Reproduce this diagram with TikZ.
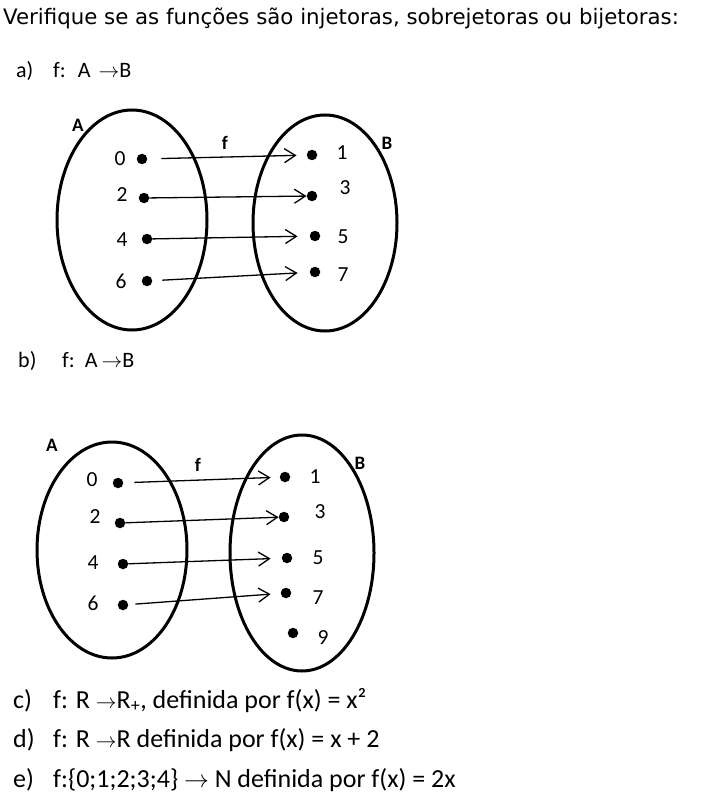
\documentclass[tikz,border=0pt]{standalone}
\usepackage{fontspec}
\setmainfont{Carlito}
\newfontfamily\verdana{DejaVu Sans}
\usetikzlibrary{arrows.meta}
\newcommand\seta{{\fontsize{21}{25}\selectfont$\rightarrow$}}
\tikzset{
  pt/.style={circle,fill,inner sep=0pt,minimum size=10.5pt},
  num/.style={font=\fontsize{21.5}{25}\selectfont},
  setname/.style={font=\fontsize{19}{23}\selectfont\bfseries},
  item/.style={anchor=base west,inner sep=0pt,font=\fontsize{22}{26}\selectfont},
  itembig/.style={anchor=base west,inner sep=0pt,font=\fontsize{26}{31}\selectfont},
  map/.style={-{Straight Barb[length=11pt,width=14pt]},line width=1.3pt},
  conj/.style={line width=3pt}
}
\begin{document}
\begin{tikzpicture}[x=1pt,y=-1pt]
\useasboundingbox (0,0) rectangle (724,805);
\node[anchor=base west,inner sep=0pt,font=\verdana\fontsize{21.3}{25}\selectfont] (titulo) at (3,25) {Verifique se as funções são injetoras, sobrejetoras ou bijetoras:};
\node[item] (ia) at (16,78) {a)}; \node[item] (fa) at (53,78) {f:\hspace{12pt}A\hspace{8pt}$\rightarrow$B};
\node[item] (ib) at (18,367) {b)}; \node[item] (fb) at (62,367) {f:\hspace{10pt}A\hspace{4pt}$\rightarrow$B};
\node[itembig] (ic) at (13,708) {c)}; \node[itembig] (fc) at (53,708) {f: R \seta R\textsubscript{+}, definida por f(x) = x²};
\node[itembig] (id) at (13,747) {d)}; \node[itembig] (fd) at (53,747) {f: R \seta R definida por f(x) = x + 2};
\node[itembig] (ie) at (13,787) {e)}; \node[itembig] (fe) at (53,787) {f:\{0;1;2;3;4\} $\rightarrow$ N definida por f(x) = 2x};
% a)
\draw[conj] (132,220) ellipse [x radius=75,y radius=110];
\draw[conj] (325,223) ellipse [x radius=72,y radius=108];
\node[setname] (Aa) at (78,125) {A}; \node[setname] (Ba) at (387,143) {B};
\node[setname] (fla) at (225,143) {f};
\node[pt] (a0) at (142,159) {}; \node[num] (la0) at (120,159) {0};
\node[pt] (a2) at (144,198) {}; \node[num] (la2) at (122,195) {2};
\node[pt] (a4) at (147,239) {}; \node[num] (la4) at (122,240) {4};
\node[pt] (a6) at (147,281) {}; \node[num] (la6) at (121,281) {6};
\node[pt] (b1) at (312,155) {}; \node[num] (lb1) at (342,153) {1};
\node[pt] (b3) at (312,196) {}; \node[num] (lb3) at (345,188) {3};
\node[pt] (b5) at (315,236) {}; \node[num] (lb5) at (343,237) {5};
\node[pt] (b7) at (315,272) {}; \node[num] (lb7) at (343,275) {7};
\draw[map,shorten <=14pt,shorten >=10pt] (a0) -- (b1);
\draw[map] (a2) -- (b3);
\draw[map,shorten >=12pt] (a4) -- (b5);
\draw[map,shorten <=10pt,shorten >=12pt] (a6) -- (b7);
% b)
\draw[conj] (112,550) ellipse [x radius=75,y radius=108];
\draw[conj] (302,553) ellipse [x radius=72,y radius=118];
\node[setname] (Ab) at (52,445) {A}; \node[setname] (Bb) at (360,463) {B};
\node[setname] (flb) at (198,465) {f};
\node[pt] (c0) at (118,483) {}; \node[num] (lc0) at (92,480) {0};
\node[pt] (c2) at (120,523) {}; \node[num] (lc2) at (95,517) {2};
\node[pt] (c4) at (123,564) {}; \node[num] (lc4) at (93,563) {4};
\node[pt] (c6) at (123,605) {}; \node[num] (lc6) at (93,603) {6};
\node[pt] (d1) at (285,477) {}; \node[num] (ld1) at (315,477) {1};
\node[pt] (d3) at (284,517) {}; \node[num] (ld3) at (320,512) {3};
\node[pt] (d5) at (287,558) {}; \node[num] (ld5) at (318,558) {5};
\node[pt] (d7) at (286,593) {}; \node[num] (ld7) at (318,598) {7};
\node[pt] (d9) at (293,633) {}; \node[num] (ld9) at (323,638) {9};
\draw[map,shorten <=11pt,shorten >=9pt] (c0) -- (d1);
\draw[map] (c2) -- (d3);
\draw[map,shorten >=11pt] (c4) -- (d5);
\draw[map,shorten <=7pt,shorten >=10pt] (c6) -- (d7);
\end{tikzpicture}
\end{document}
